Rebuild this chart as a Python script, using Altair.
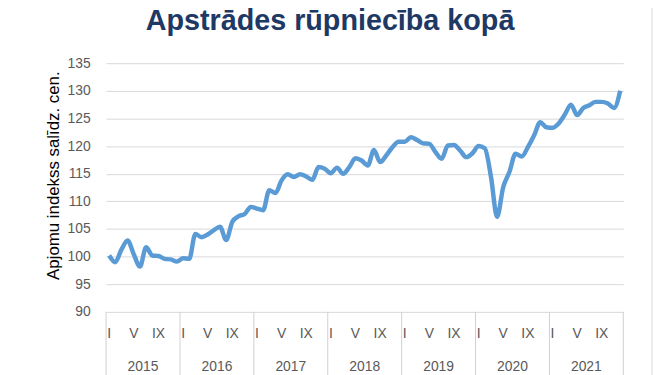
import altair as alt
import pandas as pd

title_text = ["Apstrādes rūpniecība kopā"]
y_title = "Apjomu indekss salīdz. cen."
years = ["2015", "2016", "2017", "2018", "2019", "2020", "2021"]
month_labels = ["I", "V", "IX"]
month_label_pos = [0, 4, 8]
values = [
    100.2, 99.0, 101.3, 102.9, 100.4, 98.2, 101.7, 100.2, 100.1, 99.6, 99.5, 99.1,
    99.7, 99.6, 104.1, 103.5, 104.0, 104.8, 105.4, 103.0, 106.3, 107.3, 107.7, 109.0,
    108.7, 108.4, 112.0, 111.5, 113.8, 114.9, 114.4, 114.9, 114.5, 113.9, 116.2, 115.9,
    115.1, 116.1, 115.0, 116.2, 117.8, 117.4, 116.5, 119.3, 117.1, 118.3, 119.8, 120.8,
    120.8, 121.6, 121.1, 120.5, 120.4, 118.9, 117.7, 120.1, 120.2, 119.2, 118.0, 118.7,
    120.0, 119.6, 114.5, 107.2, 112.6, 115.3, 118.6, 118.1, 119.8, 121.9, 124.3, 123.4,
    123.3, 124.1, 125.7, 127.5, 125.6, 126.9, 127.4, 128.0, 128.0, 127.7, 126.9, 130.0,
]
y_ticks = [90, 95, 100, 105, 110, 115, 120, 125, 130, 135]

W, H = 522, 251
n = len(values)
xscale = alt.Scale(domain=[0, n], nice=False, zero=False)
yscale = alt.Scale(domain=[90, 135], nice=False, zero=False)

df = pd.DataFrame({"x": [i + 0.5 for i in range(n)], "v": values})
mdf = pd.DataFrame([
    {"x": 12 * yi + p + 0.5, "lab": lab}
    for yi in range(len(years))
    for p, lab in zip(month_label_pos, month_labels)
])
ydf = pd.DataFrame({"x": [12 * i + 6 for i in range(len(years))], "lab": years})
sdf = pd.DataFrame({"x": [12 * i for i in range(len(years) + 1)]})
tdf = pd.DataFrame({"t": title_text})

font = "Liberation Sans"

line = alt.Chart(df).mark_line(
    color="#5B9BD5", strokeWidth=4.5, interpolate="monotone"
).encode(
    x=alt.X("x:Q", scale=xscale, axis=None),
    y=alt.Y("v:Q", scale=yscale, axis=alt.Axis(
        values=y_ticks, title=y_title, ticks=False, domain=False,
        labelColor="#595959", labelFontSize=14, labelFont=font, labelPadding=16,
        gridColor="#D9D9D9", gridWidth=1,
        titleFont=font, titleFontSize=17, titleFontWeight="normal", titleColor="#000000",
        titleAngle=270, titleX=-48, titleY=113, titleAlign="center", titleBaseline="alphabetic",
    )),
)

seps = alt.Chart(sdf).mark_rule(color="#D0D0D0", strokeWidth=1).encode(
    x=alt.X("x:Q", scale=xscale, axis=None),
    y=alt.value(H), y2=alt.value(H + 70),
)

mlabels = alt.Chart(mdf).mark_text(
    font=font, fontSize=14, color="#595959", baseline="middle", align="center"
).encode(
    x=alt.X("x:Q", scale=xscale, axis=None), y=alt.value(273), text="lab:N"
)

ylabels = alt.Chart(ydf).mark_text(
    font=font, fontSize=14, color="#595959", baseline="middle", align="center"
).encode(
    x=alt.X("x:Q", scale=xscale, axis=None), y=alt.value(307), text="lab:N"
)

title = alt.Chart(tdf).mark_text(
    font=font, fontSize=29, fontWeight="bold", color="#203864", baseline="alphabetic", align="center"
).encode(
    x=alt.value(226), y=alt.value(-33), text="t:N"
)

border_l = alt.Chart(tdf).mark_rule(color="#D9D9D9", strokeWidth=1).encode(
    x=alt.value(-103), y=alt.value(-70), y2=alt.value(H + 80)
)
border_r = alt.Chart(tdf).mark_rule(color="#D9D9D9", strokeWidth=1).encode(
    x=alt.value(551), y=alt.value(-70), y2=alt.value(H + 80)
)

chart = alt.layer(border_l, border_r, seps, line, mlabels, ylabels, title).properties(
    width=W, height=H,
    autosize=alt.AutoSizeParams(type="none"),
    padding={"left": 99, "top": 54, "right": 34, "bottom": 62},
    background="white",
).configure_view(strokeWidth=0)

chart.save("out.html", embed_options={"renderer": "svg", "actions": False})
